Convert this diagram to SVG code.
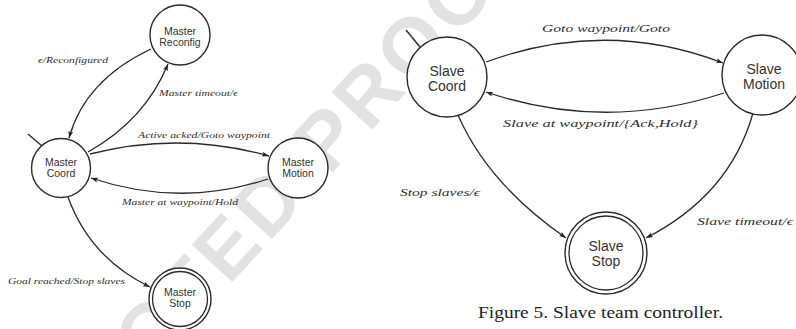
<svg xmlns="http://www.w3.org/2000/svg" width="796" height="329" viewBox="0 0 796 329">
  <defs>
    <marker id="arrow" markerWidth="8" markerHeight="6" refX="7" refY="3" orient="auto" markerUnits="userSpaceOnUse">
      <path d="M0,0.5 L7,3 L0,5.5 L1.5,3 Z" fill="#222"/>
    </marker>
    <style>
      .node { fill: #fff; stroke: #2a2a2a; stroke-width: 1.4; }
      .ring { fill: none; stroke: #2a2a2a; stroke-width: 1.3; }
      .edge { fill: none; stroke: #2a2a2a; stroke-width: 1.3; marker-end: url(#arrow); }
      .init { fill: none; stroke: #2a2a2a; stroke-width: 1.4; }
      .mlab { font-family: "Liberation Sans", Arial, sans-serif; font-size: 10.5px; fill: #333; text-anchor: middle; }
      .slab { font-family: "Liberation Sans", Arial, sans-serif; font-size: 14px; fill: #333; text-anchor: middle; }
      .elab { font-family: "Liberation Serif", "Times New Roman", serif; font-style: italic; fill: #2e2e2e; }
      .mel { font-size: 9px; }
      .sel { font-size: 11px; }
      .caption { font-family: "Liberation Serif", "Times New Roman", serif; font-size: 16px; fill: #222; }
      .wm { font-family: "Liberation Sans", Arial, sans-serif; font-weight: bold; font-size: 80px; fill: #e2e2e2; letter-spacing: 5px; }
    </style>
  </defs>

  <rect width="796" height="329" fill="#fff"/>

  <!-- proof watermark -->
  <text class="wm" transform="translate(150,372) rotate(-47.5)">CTED PROOF</text>

  <!-- connectors -->
  <g id="connectors">
    <!-- master team controller -->
    <path class="init" d="M28,134 L42,146"/>
    <path class="edge" d="M151,49 Q85,80 69,138"/>
    <path class="edge" d="M88,152 Q145,120 168,64"/>
    <path class="edge" d="M90,154 Q180,131 269,156"/>
    <path class="edge" d="M268,179 Q180,208 91,178"/>
    <path class="edge" d="M68,197 Q90,258 150,287"/>
    <!-- slave team controller -->
    <path class="init" d="M406,30 L420,47"/>
    <path class="edge" d="M486,62 Q606,18 723,63"/>
    <path class="edge" d="M724,93 Q604,132 486,92"/>
    <path class="edge" d="M458,115 Q488,184 566,238"/>
    <path class="edge" d="M753,113 Q730,195 646,238"/>
  </g>

  <!-- connector labels -->
  <g id="labels">
    <text class="elab mel" x="38" y="63" textLength="70" lengthAdjust="spacingAndGlyphs">ϵ/Reconfigured</text>
    <text class="elab mel" x="159" y="96" textLength="79" lengthAdjust="spacingAndGlyphs">Master timeout/ϵ</text>
    <text class="elab mel" x="138" y="138" textLength="132" lengthAdjust="spacingAndGlyphs">Active acked/Goto waypoint</text>
    <text class="elab mel" x="122" y="205" textLength="116" lengthAdjust="spacingAndGlyphs">Master at waypoint/Hold</text>
    <text class="elab mel" x="8" y="284" textLength="117" lengthAdjust="spacingAndGlyphs">Goal reached/Stop slaves</text>
    <text class="elab sel" x="542" y="32" textLength="128" lengthAdjust="spacingAndGlyphs">Goto waypoint/Goto</text>
    <text class="elab sel" x="503" y="127" textLength="195" lengthAdjust="spacingAndGlyphs">Slave at waypoint/{Ack,Hold}</text>
    <text class="elab sel" x="400" y="196" textLength="80" lengthAdjust="spacingAndGlyphs">Stop slaves/ϵ</text>
    <text class="elab sel" x="697" y="225" textLength="96" lengthAdjust="spacingAndGlyphs">Slave timeout/ϵ</text>
  </g>

  <!-- master team controller states -->
  <g id="master-reconfig">
    <circle class="node" cx="180" cy="35" r="30"/>
    <text class="mlab" x="180" y="35">Master</text>
    <text class="mlab" x="180" y="46">Reconfig</text>
  </g>
  <g id="master-coord">
    <circle class="node" cx="61" cy="168" r="29.5"/>
    <text class="mlab" x="61" y="166">Master</text>
    <text class="mlab" x="61" y="177">Coord</text>
  </g>
  <g id="master-motion">
    <circle class="node" cx="298" cy="168" r="30"/>
    <text class="mlab" x="298" y="166">Master</text>
    <text class="mlab" x="298" y="177">Motion</text>
  </g>
  <g id="master-stop">
    <circle class="node" cx="180" cy="299" r="31"/>
    <circle class="ring" cx="180" cy="299" r="27.5"/>
    <text class="mlab" x="180" y="296">Master</text>
    <text class="mlab" x="180" y="307">Stop</text>
  </g>

  <!-- slave team controller states -->
  <g id="slave-coord">
    <circle class="node" cx="447" cy="77" r="40"/>
    <text class="slab" x="447" y="76">Slave</text>
    <text class="slab" x="447" y="91">Coord</text>
  </g>
  <g id="slave-motion">
    <circle class="node" cx="762" cy="75" r="40"/>
    <text class="slab" x="764" y="74">Slave</text>
    <text class="slab" x="764" y="89">Motion</text>
  </g>
  <g id="slave-stop">
    <circle class="node" cx="606" cy="253" r="41"/>
    <circle class="ring" cx="606" cy="253" r="37"/>
    <text class="slab" x="606" y="251">Slave</text>
    <text class="slab" x="606" y="266">Stop</text>
  </g>

  <text class="caption" x="478" y="318" textLength="245" lengthAdjust="spacingAndGlyphs">Figure 5.  Slave team controller.</text>
</svg>
